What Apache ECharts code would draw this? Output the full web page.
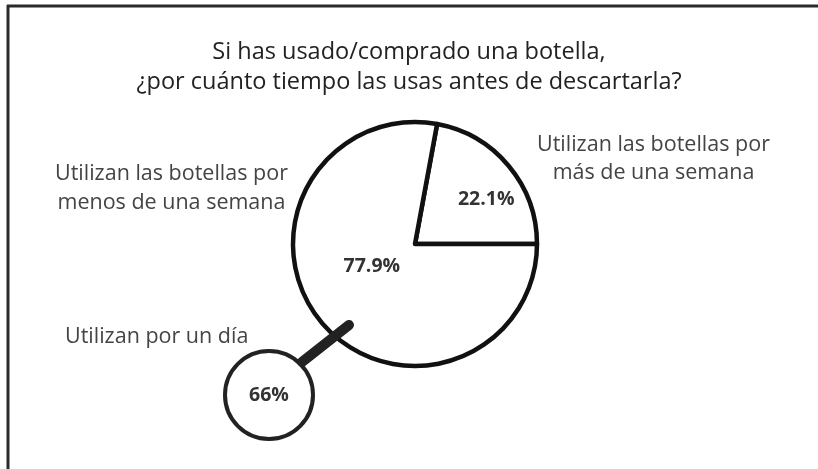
<!DOCTYPE html>
<html>
<head>
<meta charset="utf-8">
<script src="https://cdn.jsdelivr.net/npm/echarts@6/dist/echarts.min.js"></script>
<style>
html,body{margin:0;padding:0;background:#fff;}
#chart{width:818px;height:469px;}
</style>
</head>
<body>
<div id="chart"></div>
<script>
var titleLines = ['Si has usado/comprado una botella,', '¿por cuánto tiempo las usas antes de descartarla?'];
var categories = ['Utilizan las botellas por\nmás de una semana', 'Utilizan las botellas por\nmenos de una semana'];
var values = [22.1, 77.9];
var subCategory = 'Utilizan por un día';
var subValue = 66;

var chart = echarts.init(document.getElementById('chart'));
var FONT = '"Open Sans", "DejaVu Sans", sans-serif';

var option = {
  backgroundColor: '#ffffff',
  animation: false,
  title: {
    text: titleLines.join('\n'),
    left: 'center',
    top: 32,
    textStyle: { fontFamily: FONT, fontSize: 23.5, fontWeight: 'normal', color: '#222', lineHeight: 30 }
  },
  graphic: [
    { type: 'line', shape: { x1: 7, y1: 6, x2: 818, y2: 6 }, style: { stroke: '#2b2b2b', lineWidth: 3 } },
    { type: 'line', shape: { x1: 8, y1: 5, x2: 8, y2: 469 }, style: { stroke: '#2b2b2b', lineWidth: 3 } },
    { type: 'line', z: 20, shape: { x1: 302, y1: 362, x2: 349, y2: 325 }, style: { stroke: '#222', lineWidth: 10, lineCap: 'round' } },
    { type: 'text', left: 537, top: 131, style: { text: categories[0], font: '21.5px ' + FONT, fill: '#444', textAlign: 'center', lineHeight: 28, width: 232 } },
    { type: 'text', left: 55, top: 159, style: { text: categories[1], font: '21.5px ' + FONT, fill: '#444', textAlign: 'center', lineHeight: 29, width: 232 } },
    { type: 'text', left: 65, top: 326, style: { text: subCategory, font: '21.5px ' + FONT, fill: '#444' } }
  ],
  series: [
    {
      type: 'pie',
      center: [415, 244],
      radius: [0, 122],
      startAngle: 0,
      clockwise: false,
      z: 3,
      itemStyle: { color: '#fff', borderColor: '#111', borderWidth: 4.5 },
      label: {
        show: true, position: 'inside',
        formatter: function (p) { return p.value + '%'; },
        fontFamily: FONT, fontSize: 19.5, fontWeight: 'bold', color: '#333'
      },
      labelLine: { show: false },
      emphasis: { disabled: true },
      data: [
        { name: categories[0], value: values[0], label: { offset: [22, -4] } },
        { name: categories[1], value: values[1], label: { offset: [6, -19] } }
      ]
    },
    {
      type: 'pie',
      center: [269, 395],
      radius: [0, 44],
      z: 4,
      itemStyle: { color: '#fff', borderColor: '#222', borderWidth: 4 },
      label: {
        show: true, position: 'center',
        formatter: function (p) { return p.value + '%'; },
        fontFamily: FONT, fontSize: 19.5, fontWeight: 'bold', color: '#333'
      },
      labelLine: { show: false },
      emphasis: { disabled: true },
      data: [{ name: subCategory, value: subValue }]
    }
  ]
};
chart.setOption(option);
</script>
</body>
</html>
